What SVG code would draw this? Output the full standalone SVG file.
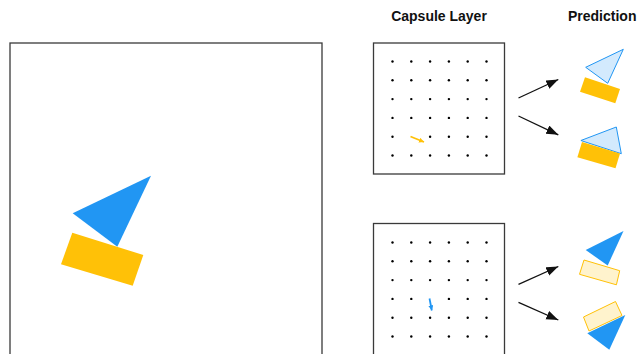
<svg xmlns="http://www.w3.org/2000/svg" width="638" height="354" viewBox="0 0 638 354">
<style>
.title{font-family:"Liberation Sans",Arial,sans-serif;font-size:14px;font-weight:bold;fill:#111}
.box{fill:#fff;stroke:#3a3a3a;stroke-width:1.3}
.dot{fill:#000}
.conn{stroke:#111;stroke-width:1.3;fill:none}
.blue{fill:#2196F3}
.yellow{fill:#FFC107}
.lblue{fill:#D3EAFD;stroke:#2196F3;stroke-width:1}
.lyellow{fill:#FFF3CD;stroke:#FFC107;stroke-width:1}
</style>
<defs>
<marker id="ah" markerUnits="userSpaceOnUse" markerWidth="13" markerHeight="10" refX="12" refY="4.5" orient="auto">
<path d="M0,0 L12,4.5 L0,9 Z" fill="#111"/>
</marker>
<marker id="ahY" markerUnits="userSpaceOnUse" markerWidth="6" markerHeight="6" refX="5" refY="2.5" orient="auto">
<path d="M0,0 L5,2.5 L0,5 Z" fill="#FFC107"/>
</marker>
<marker id="ahB" markerUnits="userSpaceOnUse" markerWidth="6" markerHeight="6" refX="5" refY="2.5" orient="auto">
<path d="M0,0 L5,2.5 L0,5 Z" fill="#2196F3"/>
</marker>
<g id="dots6">
<circle class="dot" cx="0" cy="0" r="1.2"/><circle class="dot" cx="18.8" cy="0" r="1.2"/><circle class="dot" cx="37.6" cy="0" r="1.2"/><circle class="dot" cx="56.4" cy="0" r="1.2"/><circle class="dot" cx="75.2" cy="0" r="1.2"/><circle class="dot" cx="94" cy="0" r="1.2"/>
</g>
</defs>

<text class="title" x="439" y="21" text-anchor="middle">Capsule Layer</text>
<text class="title" x="568" y="21">Prediction</text>

<g id="input-image">
<rect class="box" x="10" y="43" width="312" height="330"/>
<polygon class="blue" points="72.7,213.3 151,175.7 117.3,246.7"/>
<polygon class="yellow" points="72.3,232.7 143.3,255 132.7,285.7 61,264.3"/>
</g>

<g id="capsule-layer-1">
<rect class="box" x="373.5" y="43" width="131" height="131"/>
<use href="#dots6" x="392.5" y="61.5"/>
<use href="#dots6" x="392.5" y="80.3"/>
<use href="#dots6" x="392.5" y="99.1"/>
<use href="#dots6" x="392.5" y="117.9"/>
<circle class="dot" cx="392.5" cy="136.7" r="1.2"/><circle class="dot" cx="430.1" cy="136.7" r="1.2"/><circle class="dot" cx="448.9" cy="136.7" r="1.2"/><circle class="dot" cx="467.7" cy="136.7" r="1.2"/><circle class="dot" cx="486.5" cy="136.7" r="1.2"/>
<use href="#dots6" x="392.5" y="155.5"/>
<line x1="410.5" y1="136.5" x2="424" y2="142" stroke="#FFC107" stroke-width="1.8" marker-end="url(#ahY)"/>
</g>

<g id="capsule-layer-2">
<rect class="box" x="373.5" y="223.5" width="131" height="132"/>
<use href="#dots6" x="392.5" y="242.5"/>
<use href="#dots6" x="392.5" y="261.3"/>
<use href="#dots6" x="392.5" y="280.1"/>
<circle class="dot" cx="392.5" cy="298.9" r="1.2"/><circle class="dot" cx="411.3" cy="298.9" r="1.2"/><circle class="dot" cx="448.9" cy="298.9" r="1.2"/><circle class="dot" cx="467.7" cy="298.9" r="1.2"/><circle class="dot" cx="486.5" cy="298.9" r="1.2"/>
<use href="#dots6" x="392.5" y="317.7"/>
<use href="#dots6" x="392.5" y="336.5"/>
<line x1="429.5" y1="298.5" x2="431.8" y2="310.5" stroke="#2196F3" stroke-width="1.8" marker-end="url(#ahB)"/>
</g>

<g id="connectors">
<line class="conn" x1="518.5" y1="98" x2="558.3" y2="79.5" marker-end="url(#ah)"/>
<line class="conn" x1="518.5" y1="116" x2="558.3" y2="134.8" marker-end="url(#ah)"/>
<line class="conn" x1="518.5" y1="284.3" x2="558.3" y2="266.5" marker-end="url(#ah)"/>
<line class="conn" x1="518.5" y1="302.3" x2="558.3" y2="320" marker-end="url(#ah)"/>
</g>

<g id="prediction-1">
<polygon class="lblue" points="585.7,67.3 623.3,49.3 607.7,83.3"/>
<polygon class="yellow" points="585,77.3 620,89 615.3,103.3 580,91.7"/>
</g>
<g id="prediction-2">
<polygon class="lblue" points="580.9,140.5 616.3,127 621.3,153.7"/>
<polygon class="yellow" points="582,142 620,153.5 615.5,168.3 577.4,157.3"/>
</g>
<g id="prediction-3">
<polygon class="blue" points="585.7,250 623.5,231 607.7,265.5"/>
<polygon class="lyellow" points="584,260 619.7,270.7 616.4,284.8 579.5,274.3"/>
</g>
<g id="prediction-4">
<polygon class="lyellow" points="583.5,317 615.5,301.5 622,315.5 589,331"/>
<polygon class="blue" points="587.3,333.3 625.3,315 609.3,349.8"/>
</g>
</svg>
